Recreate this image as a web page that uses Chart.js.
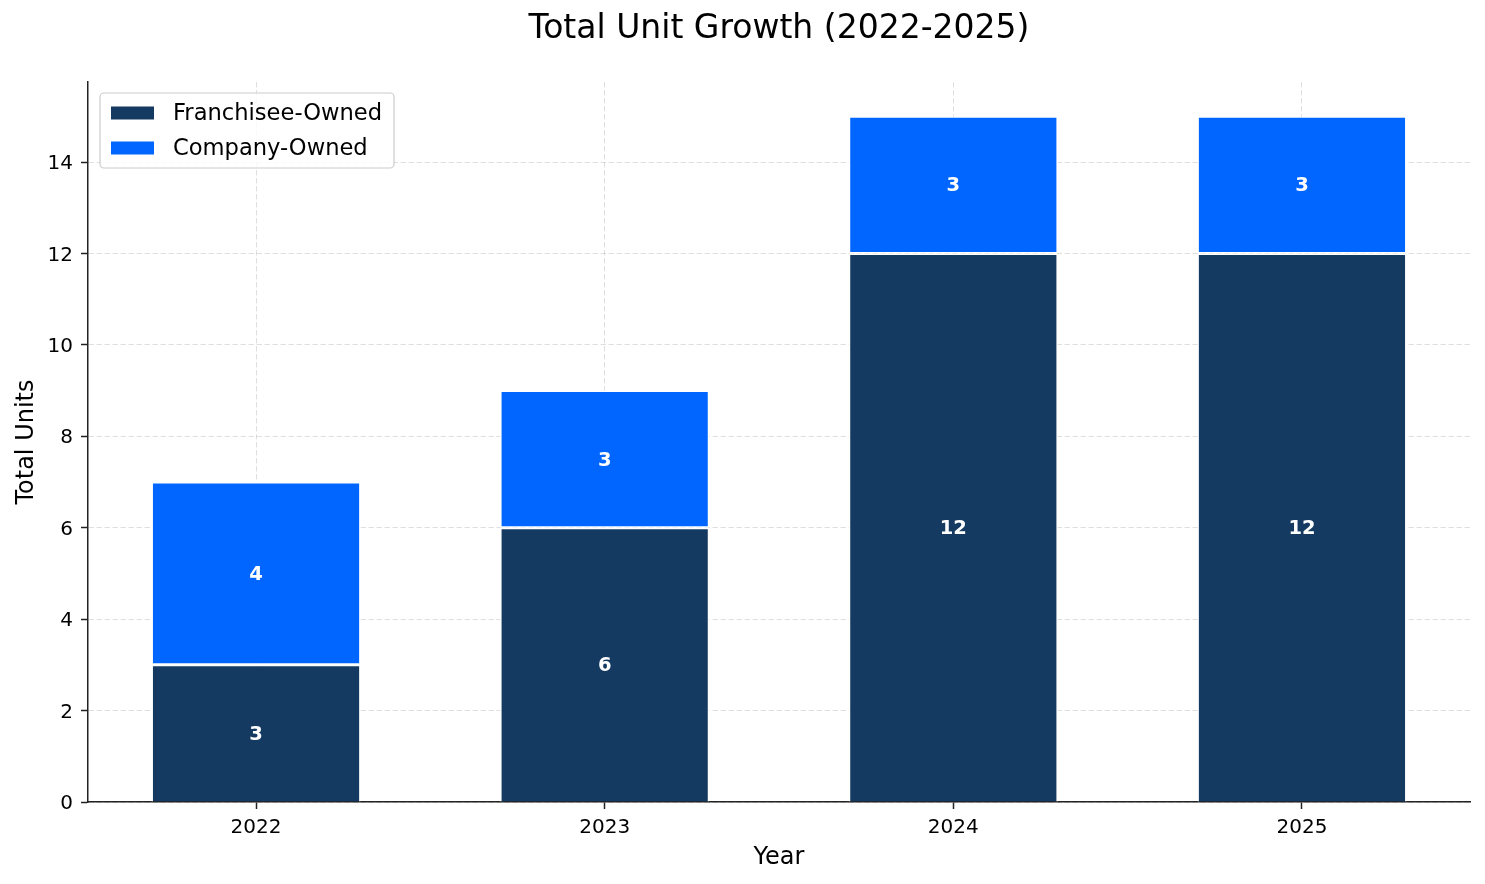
<!DOCTYPE html>
<html lang="en">
<head>
    <meta charset="UTF-8">
    <title>Total Unit Growth</title>
    <script src="https://cdn.jsdelivr.net/npm/chart.js"></script>
    <style>
        body { margin: 0; background: #fff; }
        #wrap { width: 1485px; height: 884px; }
    </style>
</head>
<body>
    <div id="wrap"><canvas id="unitsChart" width="1485" height="884"></canvas></div>

    <script>
        // Chart data
        const years = ["2022", "2023", "2024", "2025"];
        const franchiseeOwned = [3, 6, 12, 12];
        const companyOwned = [4, 3, 3, 3];
        const yTicks = [0, 2, 4, 6, 8, 10, 12, 14];

        const FONT = "'DejaVu Sans', sans-serif";
        const gridColor = "rgba(150, 150, 150, 0.3)";
        const yearNums = years.map(Number);

        // white value labels in the middle of each segment + legend inside the plot
        const overlayPlugin = {
            id: "overlay",
            afterDraw(chart) {
                const ctx = chart.ctx;
                ctx.save();
                ctx.fillStyle = "#fff";
                ctx.font = "bold 19.5px " + FONT;
                ctx.textAlign = "center";
                ctx.textBaseline = "middle";
                chart.data.datasets.forEach((ds, i) => {
                    chart.getDatasetMeta(i).data.forEach((bar, j) => {
                        const p = bar.getProps(["x", "y", "base"], true);
                        ctx.fillText(String(ds.data[j]), p.x, (p.y + p.base) / 2 + 1.5);
                    });
                });

                // legend
                const area = chart.chartArea;
                const lx = area.left + 12, ly = area.top + 11;
                ctx.beginPath();
                ctx.roundRect(lx, ly, 294, 75, 4);
                ctx.fillStyle = "rgba(255,255,255,0.8)";
                ctx.fill();
                ctx.strokeStyle = "#cccccc";
                ctx.lineWidth = 1.2;
                ctx.stroke();
                ctx.font = "22.6px " + FONT;
                ctx.textAlign = "left";
                chart.data.datasets.forEach((ds, i) => {
                    const cy = ly + 20 + i * 35;
                    ctx.fillStyle = ds.backgroundColor;
                    ctx.fillRect(lx + 11, cy - 6.5, 43, 13);
                    ctx.fillStyle = "#000";
                    ctx.fillText(ds.label, lx + 73, cy + 1);
                });
                ctx.restore();
            }
        };

        const ctx = document.getElementById("unitsChart").getContext("2d");
        new Chart(ctx, {
            type: "bar",
            data: {
                labels: years,
                datasets: [
                    {
                        label: "Franchisee-Owned",
                        data: franchiseeOwned,
                        backgroundColor: "#153A61",
                        borderColor: "#ffffff",
                        borderWidth: 1.5,
                        borderSkipped: "start"
                    },
                    {
                        label: "Company-Owned",
                        data: companyOwned,
                        backgroundColor: "#0066FF",
                        borderColor: "#ffffff",
                        borderWidth: 1.5,
                        borderSkipped: false
                    }
                ]
            },
            options: {
                responsive: false,
                animation: false,
                devicePixelRatio: 1,
                barPercentage: 0.6,
                categoryPercentage: 1.0,
                layout: { padding: { left: 0, right: 15, top: 0, bottom: 0 } },
                plugins: {
                    legend: { display: false },
                    tooltip: { enabled: false },
                    title: {
                        display: true,
                        text: "Total Unit Growth (2022-2025)",
                        fullSize: false,
                        color: "#000",
                        font: { family: FONT, size: 33, weight: "normal", lineHeight: 1.2 },
                        padding: { top: 10, bottom: 32.4 }
                    }
                },
                scales: {
                    x: {
                        type: "linear",
                        stacked: true,
                        offset: false,
                        z: 1,
                        min: yearNums[0] - 0.482,
                        max: yearNums[yearNums.length - 1] + 0.482,
                        afterFit: s => { s.height = 82; },
                        afterBuildTicks: s => { s.ticks = yearNums.map(v => ({ value: v })); },
                        grid: {
                            offset: false,
                            color: gridColor,
                            lineWidth: 1,
                            tickColor: "#222",
                            tickWidth: 1.5,
                            tickLength: 7,
                            tickBorderDash: []
                        },
                        border: { display: true, color: "#222", width: 1.5, dash: [5.5, 2.5] },
                        ticks: {
                            color: "#000",
                            padding: 7,
                            font: { family: FONT, size: 20 },
                            callback: v => String(v)
                        },
                        title: {
                            display: true,
                            text: "Year",
                            color: "#000",
                            font: { family: FONT, size: 24, lineHeight: 1.2 },
                            padding: { top: 0, bottom: 12 }
                        }
                    },
                    y: {
                        stacked: true,
                        z: 1,
                        min: 0,
                        max: 15.75,
                        afterFit: s => { s.width = 88; },
                        afterBuildTicks: s => { s.ticks = yTicks.map(v => ({ value: v })); },
                        grid: {
                            color: gridColor,
                            lineWidth: 1,
                            tickColor: "#222",
                            tickWidth: 1.5,
                            tickLength: 7,
                            tickBorderDash: []
                        },
                        border: { display: true, color: "#222", width: 1.5, dash: [5.5, 2.5] },
                        ticks: { color: "#000", padding: 8, labelOffset: 2, font: { family: FONT, size: 20 } },
                        title: {
                            display: true,
                            text: "Total Units",
                            color: "#000",
                            font: { family: FONT, size: 24, lineHeight: 1.2 },
                            padding: { top: 12, bottom: 0 }
                        }
                    }
                }
            },
            plugins: [overlayPlugin]
        });
    </script>
</body>
</html>
